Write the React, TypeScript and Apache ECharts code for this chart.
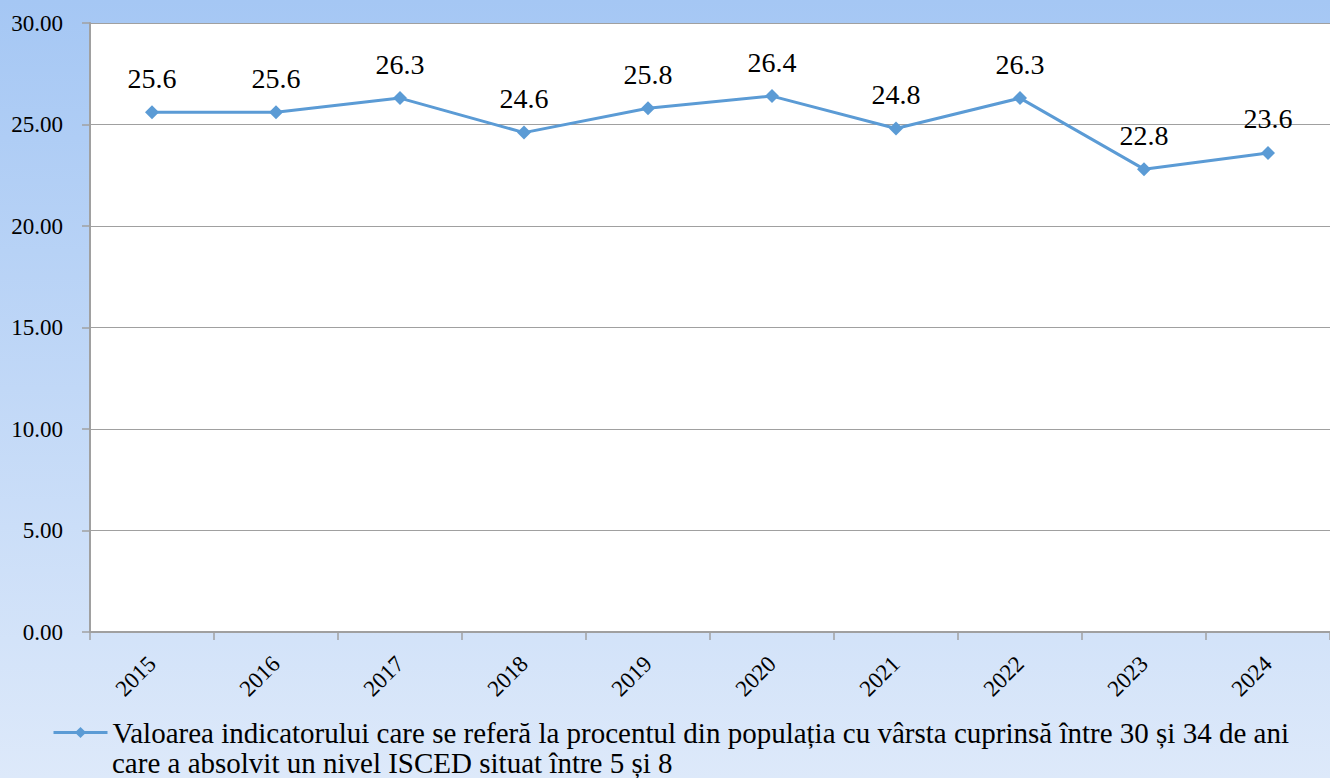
import React, { useEffect, useRef } from "react";
import * as echarts from "echarts";

const years = ["2015", "2016", "2017", "2018", "2019", "2020", "2021", "2022", "2023", "2024"];
const values = [25.6, 25.6, 26.3, 24.6, 25.8, 26.4, 24.8, 26.3, 22.8, 23.6];
const seriesName =
  "Valoarea indicatorului care se referă la procentul din populația cu vârsta cuprinsă între 30 și 34 de ani care a absolvit un nivel ISCED situat între 5 și 8";
const legendLine1 =
  "Valoarea indicatorului care se referă la procentul din populația cu vârsta cuprinsă între 30 și 34 de ani";
const legendLine2 = "care a absolvit un nivel ISCED situat între 5 și 8";

const FONT = "Liberation Serif";
const LINE_COLOR = "#5b9bd5";

export default function App() {
  const ref = useRef<HTMLDivElement>(null);
  useEffect(() => {
    document.body.style.margin = "0";
    if (!ref.current) return;
    const chart = echarts.init(ref.current, null, { renderer: "svg" });
    chart.setOption({
      animation: false,
      backgroundColor: new echarts.graphic.LinearGradient(0, 0, 0, 1, [
        { offset: 0, color: "#a5c7f4" },
        { offset: 1, color: "#dde9fa" },
      ]),
      grid: {
        left: 90,
        top: 23,
        right: 0,
        bottom: 146,
        show: true,
        backgroundColor: "#ffffff",
        borderWidth: 0,
      },
      xAxis: {
        type: "category",
        data: years,
        boundaryGap: true,
        axisLine: { show: true, lineStyle: { color: "#a0a0a0", width: 2 } },
        axisTick: { show: true, length: 8, inside: false, lineStyle: { color: "#a0a0a0", width: 1.5 } },
        axisLabel: {
          rotate: 45,
          margin: 28,
          color: "#000",
          fontFamily: FONT,
          fontSize: 23,
        },
        splitLine: { show: false },
      },
      yAxis: {
        type: "value",
        min: 0,
        max: 30,
        interval: 5,
        axisLine: { show: true, lineStyle: { color: "#a0a0a0", width: 2 } },
        axisTick: { show: true, length: 8, lineStyle: { color: "#a0a0a0", width: 1.5 } },
        axisLabel: {
          margin: 27,
          color: "#000",
          fontFamily: FONT,
          fontSize: 23,
          formatter: (v: number) => v.toFixed(2),
        },
        splitLine: { show: true, lineStyle: { color: "#a0a0a0", width: 1 } },
      },
      legend: {
        show: true,
        left: 47,
        top: 713,
        itemWidth: 54,
        itemHeight: 14,
        itemGap: 0,
        lineStyle: { width: 3 },
        textStyle: { color: "#000", fontFamily: FONT, fontSize: 29, lineHeight: 28 },
        formatter: () => legendLine1,
        data: [{ name: seriesName }],
      },
      graphic: [
        {
          type: "text",
          left: 112,
          top: 748,
          style: { text: legendLine2, fill: "#000", fontFamily: FONT, fontSize: 29, lineHeight: 28 },
        },
      ],
      series: [
        {
          name: seriesName,
          type: "line",
          data: values,
          symbol: "diamond",
          symbolSize: 14,
          lineStyle: { color: LINE_COLOR, width: 3 },
          itemStyle: { color: LINE_COLOR },
          label: {
            show: true,
            position: "top",
            distance: 13,
            color: "#000",
            fontFamily: FONT,
            fontSize: 28,
            formatter: (p: any) => p.value.toFixed(1),
          },
        },
      ],
    });
    return () => chart.dispose();
  }, []);
  return <div ref={ref} style={{ width: 1330, height: 778 }} />;
}
